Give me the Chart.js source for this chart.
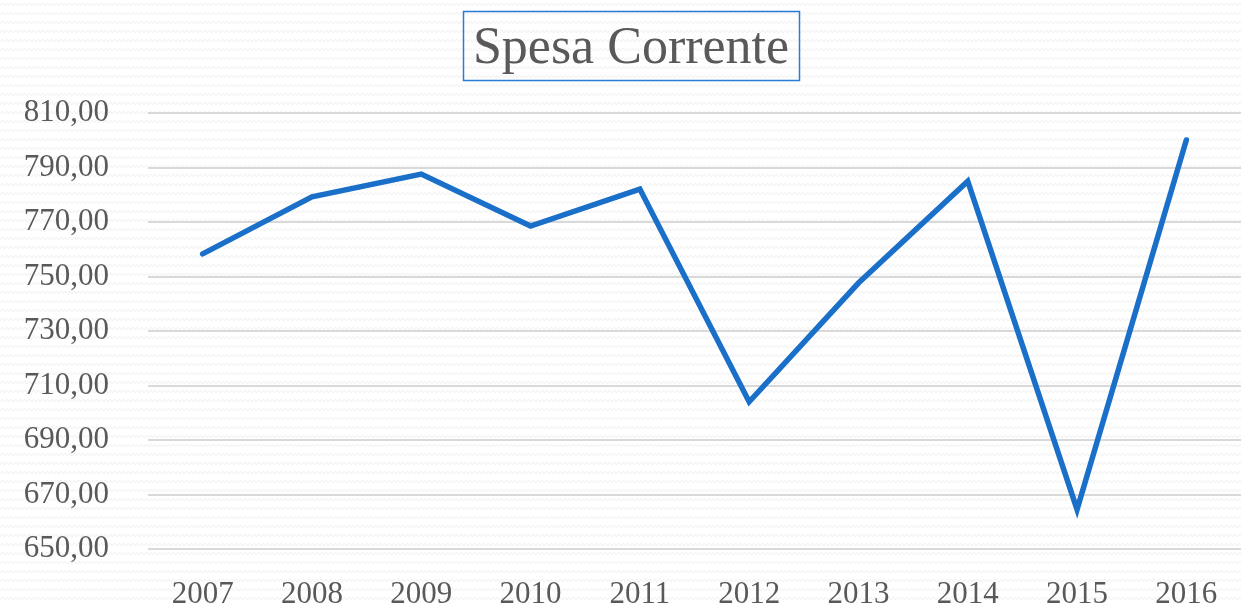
<!DOCTYPE html>
<html>
<head>
<meta charset="utf-8">
<script src="https://cdn.jsdelivr.net/npm/chart.js@4/dist/chart.umd.min.js"></script>
<style>
  html, body { margin: 0; padding: 0; background: #ffffff; }
  #wrap { width: 1241px; height: 606px; position: relative; }
</style>
</head>
<body>
<div id="wrap"><canvas id="c" width="1241" height="606"></canvas></div>
<script>
const categories = ['2007', '2008', '2009', '2010', '2011', '2012', '2013', '2014', '2015', '2016'];
const spesaCorrente = [758.3, 779.2, 787.6, 768.5, 782.1, 704.0, 747.6, 785.0, 664.5, 800.1];
const yMin = 650;
const yMax = 810;
const yStep = 20;
const chartTitle = 'Spesa Corrente';

const FONT = "'Liberation Serif', 'DejaVu Serif', serif";
const TEXT = '#595959';

const bgPattern = {
  id: 'bgPattern',
  beforeDraw(chart) {
    const ctx = chart.ctx;
    const p = document.createElement('canvas');
    p.width = 9; p.height = 9;
    const pc = p.getContext('2d');
    pc.fillStyle = '#ffffff';
    pc.fillRect(0, 0, 9, 9);
    pc.strokeStyle = '#f0f0f0';
    pc.lineWidth = 1;
    pc.beginPath();
    pc.moveTo(0, 6); pc.lineTo(2.25, 3); pc.lineTo(4.5, 6); pc.lineTo(6.75, 3); pc.lineTo(9, 6);
    pc.stroke();
    ctx.save();
    ctx.fillStyle = ctx.createPattern(p, 'repeat');
    ctx.fillRect(0, 0, chart.width, chart.height);
    ctx.restore();
  }
};

const titleBox = {
  id: 'titleBox',
  afterDraw(chart) {
    const ctx = chart.ctx;
    ctx.save();
    ctx.font = 'normal 52px ' + FONT;
    ctx.fillStyle = TEXT;
    ctx.textAlign = 'center';
    ctx.textBaseline = 'middle';
    const cx = 631, cy = 49;
    ctx.fillText(chartTitle, cx, cy);
    const w = ctx.measureText(chartTitle).width;
    const bw = Math.round(w + 20), bh = 69;
    ctx.strokeStyle = '#2b7bd6';
    ctx.lineWidth = 1.5;
    ctx.strokeRect(Math.round(cx - bw / 2) + 0.5, 11.5, bw, bh);
    ctx.restore();
  }
};

new Chart(document.getElementById('c'), {
  type: 'line',
  data: {
    labels: categories,
    datasets: [{
      data: spesaCorrente,
      borderColor: '#1a6fc9',
      borderWidth: 5.5,
      borderCapStyle: 'round',
      borderJoinStyle: 'miter',
      pointRadius: 0,
      pointHoverRadius: 0,
      tension: 0,
      fill: false
    }]
  },
  options: {
    responsive: false,
    animation: false,
    devicePixelRatio: 1,
    layout: { padding: { left: 0, right: 0, top: 113, bottom: 0 } },
    plugins: {
      legend: { display: false },
      tooltip: { enabled: false },
      title: { display: false }
    },
    scales: {
      x: {
        offset: true,
        grid: { display: false, drawTicks: false },
        border: { display: false },
        ticks: {
          color: TEXT,
          font: { family: FONT, size: 31 },
          padding: 27,
          maxRotation: 0,
          autoSkip: false
        },
        afterFit(scale) { scale.height = 57; scale.paddingLeft = 0; scale.paddingRight = 0; }
      },
      y: {
        min: yMin,
        max: yMax,
        grid: { color: '#d9d9d9', lineWidth: 2, drawTicks: false },
        border: { display: false },
        ticks: {
          stepSize: yStep,
          color: TEXT,
          font: { family: FONT, size: 31 },
          padding: 39,
          callback: (v) => Number(v).toFixed(2).replace('.', ',')
        },
        afterFit(scale) { scale.width = 148; scale.paddingTop = 0; scale.paddingBottom = 0; }
      }
    }
  },
  plugins: [bgPattern, titleBox]
});
</script>
</body>
</html>
